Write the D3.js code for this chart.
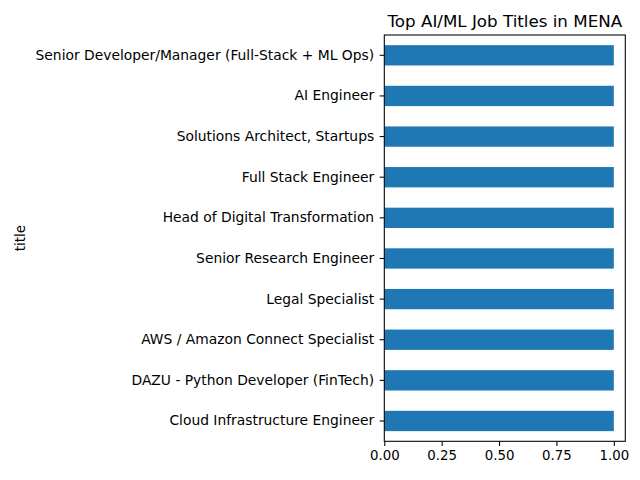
<!DOCTYPE html>
<html>
<head>
<meta charset="utf-8">
<script src="https://cdn.jsdelivr.net/npm/d3@7"></script>
<style>
  body { margin: 0; background: #fff; }
  svg { display: block; font-family: "DejaVu Sans", sans-serif; }
</style>
</head>
<body>
<script>
// Job titles, listed top to bottom as they appear
const titles = [
  "Senior Developer/Manager (Full-Stack + ML Ops)",
  "AI Engineer",
  "Solutions Architect, Startups",
  "Full Stack Engineer",
  "Head of Digital Transformation",
  "Senior Research Engineer",
  "Legal Specialist",
  "AWS / Amazon Connect Specialist",
  "DAZU - Python Developer (FinTech)",
  "Cloud Infrastructure Engineer"
];
const counts = [1, 1, 1, 1, 1, 1, 1, 1, 1, 1];
const xTicks = [0, 0.25, 0.5, 0.75, 1.0];

const width = 640, height = 480;
const margin = {top: 35, right: 14.7, bottom: 38.7, left: 384.3};

const svg = d3.select("body").append("svg")
    .attr("width", width)
    .attr("height", height);

const x = d3.scaleLinear()
    .domain([0, 1.05])
    .range([margin.left, width - margin.right]);

const y = d3.scaleBand()
    .domain(titles)
    .range([margin.top, height - margin.bottom])
    .paddingInner(0.5)
    .paddingOuter(0.25);

// Bars
svg.append("g")
    .selectAll("rect")
    .data(titles)
    .join("rect")
    .attr("x", x(0))
    .attr("y", d => y(d))
    .attr("width", (d, i) => x(counts[i]) - x(0))
    .attr("height", y.bandwidth())
    .attr("fill", "#1f77b4");

// X axis
const xAxis = svg.append("g")
    .attr("transform", `translate(0,${height - margin.bottom})`)
    .call(d3.axisBottom(x).tickValues(xTicks).tickFormat(d3.format(".2f")).tickSize(4.67).tickPadding(4.67));
xAxis.select(".domain").remove();
xAxis.selectAll("line").attr("stroke", "#000").attr("stroke-width", 1.07);
xAxis.selectAll("text").attr("font-size", 13.33).attr("fill", "#000")
    .attr("font-family", "DejaVu Sans");

// Y axis
const yAxis = svg.append("g")
    .attr("transform", `translate(${margin.left},0)`)
    .call(d3.axisLeft(y).tickSize(4.67).tickPadding(5.5));
yAxis.select(".domain").remove();
yAxis.selectAll("line").attr("stroke", "#000").attr("stroke-width", 1.07);
yAxis.selectAll("text").attr("font-size", 13.85).attr("fill", "#000")
    .attr("font-family", "DejaVu Sans");

// Frame
svg.append("rect")
    .attr("x", margin.left)
    .attr("y", margin.top)
    .attr("width", width - margin.left - margin.right)
    .attr("height", height - margin.top - margin.bottom)
    .attr("fill", "none")
    .attr("stroke", "#000")
    .attr("stroke-width", 1.07);

// Title
svg.append("text")
    .attr("x", (margin.left + width - margin.right) / 2)
    .attr("y", 27)
    .attr("text-anchor", "middle")
    .attr("font-size", 16.7)
    .text("Top AI/ML Job Titles in MENA");

// Y label
svg.append("text")
    .attr("transform", `translate(25,${(margin.top + height - margin.bottom) / 2}) rotate(-90)`)
    .attr("text-anchor", "middle")
    .attr("font-size", 13.33)
    .text("title");
</script>
</body>
</html>
